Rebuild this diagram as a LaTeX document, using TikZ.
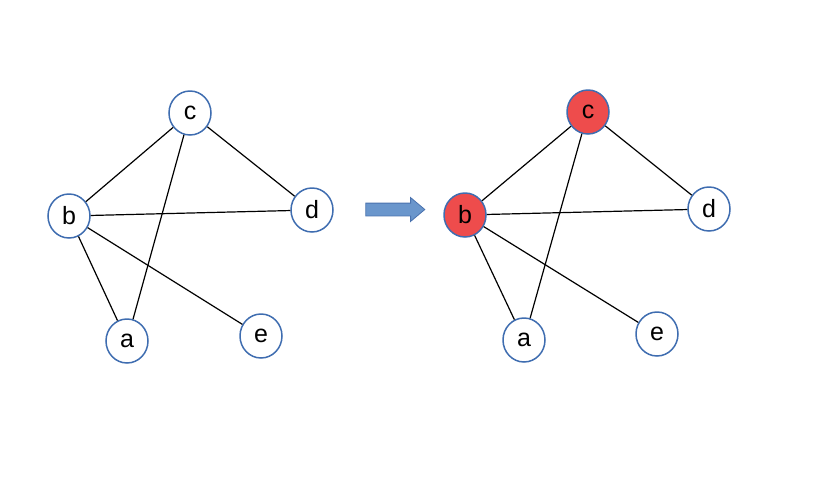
\documentclass[tikz,border=0pt]{standalone}
\usepackage{fontspec}
\setmainfont{Liberation Sans}
\usetikzlibrary{shapes.geometric,shapes.arrows}
\definecolor{nodeblue}{HTML}{3F6DB0}
\definecolor{nodered}{HTML}{EE4C4C}
\definecolor{arrfill}{HTML}{6A96CC}
\definecolor{arrline}{HTML}{4A72AE}
\tikzset{
  vnode/.style={ellipse, draw=nodeblue, line width=1.5pt, minimum width=42pt, minimum height=44pt, inner sep=0pt, fill=white, font=\fontsize{25}{25}\selectfont},
  hot/.style={fill=nodered},
  edge/.style={black, line width=1.2pt}
}
\begin{document}
\begin{tikzpicture}[x=1pt,y=-1pt]
\useasboundingbox (0,0) rectangle (816,480);
% left graph
\node[vnode] (c1) at (190,113) {c};
\node[vnode] (b1) at (69,216) {b};
\node[vnode] (d1) at (312,210) {d};
\node[vnode] (a1) at (127,341) {a};
\node[vnode] (e1) at (261,336) {e};
\draw[edge] (c1) -- (b1);
\draw[edge] (c1) -- (a1);
\draw[edge] (c1) -- (d1);
\draw[edge] (b1) -- (d1);
\draw[edge] (b1) -- (a1);
\draw[edge] (b1) -- (e1);
% arrow
\node[single arrow, draw=arrline, fill=arrfill, line width=0.8pt, minimum height=59pt, inner xsep=0pt, inner ysep=6pt, text width=0pt, single arrow head extend=5.5pt, single arrow tip angle=80] (arr) at (391.5,209.5) {};
% right graph
\node[vnode,hot] (c2) at (588,112) {c};
\node[vnode,hot] (b2) at (465,215) {b};
\node[vnode] (d2) at (709,209) {d};
\node[vnode] (a2) at (524,340) {a};
\node[vnode] (e2) at (657,334) {e};
\draw[edge] (c2) -- (b2);
\draw[edge] (c2) -- (a2);
\draw[edge] (c2) -- (d2);
\draw[edge] (b2) -- (d2);
\draw[edge] (b2) -- (a2);
\draw[edge] (b2) -- (e2);
\end{tikzpicture}
\end{document}
